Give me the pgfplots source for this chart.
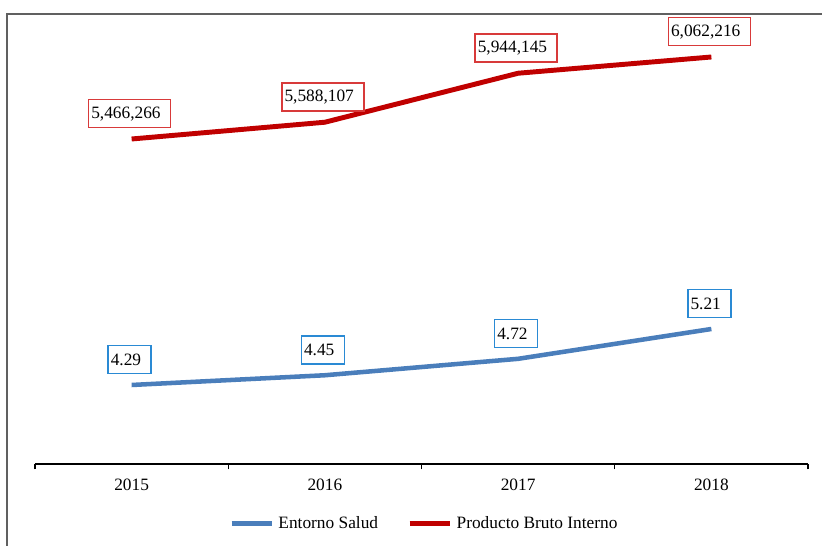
\documentclass[border=0pt]{standalone}
\usepackage{pgfplots}
\pgfplotsset{compat=1.18}
\usepackage{pgfplotstable}
\usepackage{fontspec}
\setmainfont{Liberation Serif}

\definecolor{salud}{HTML}{4A7EBB}
\definecolor{saludbox}{HTML}{2A8AD4}
\definecolor{pbi}{HTML}{C00000}
\definecolor{pbibox}{HTML}{D83A3A}
\definecolor{frame}{HTML}{606060}

% year index, value, label
\pgfplotstableread{
x y lab
0 4.29 4.29
1 4.45 4.45
2 4.72 4.72
3 5.21 5.21
}\salud
\pgfplotstableread{
x y lab
0 5466266 5,466,266
1 5588107 5,588,107
2 5944145 5,944,145
3 6062216 6,062,216
}\pbi

\newcommand\fs{\fontsize{13}{15}\selectfont}

\pgfplotsset{
  base/.style={
    scale only axis, width=579.75pt, height=337.5pt,
    at={(26.25pt,61.5pt)}, anchor=south west,
    xmin=-0.5, xmax=3.5, clip=false,
    axis y line=none,
    /pgf/number format/assume math mode=true,
    tick label style={font=\fs},
  },
  lbl/.style={
    nodes near coords={\pgfplotspointmeta\hspace*{5.5pt}},
    point meta=explicit symbolic,
    every node near coord/.append style={
      anchor=center, yshift=19pt, xshift=-1.5pt, fill=white, text=black,
      line width=1pt, inner xsep=2pt, inner ysep=0pt,
      minimum height=21pt, font=\fs},
  },
}

\begin{document}
\begin{tikzpicture}
\useasboundingbox (0,0) rectangle (616.5pt,409.5pt);
\draw[frame, line width=1.5pt] (5.25pt,-2pt) -- (5.25pt,399pt) -- (620pt,399pt);

\begin{axis}[base,
    ymin=2.992, ymax=10.385,
    axis x line=bottom, axis line style={-, black, line width=0.9pt},
    xtick={0,1,2,3}, xticklabels={2015,2016,2017,2018},
    major tick length=0pt,
    minor xtick={-0.5,0.5,1.5,2.5,3.5},
    minor tick length=4pt, tick align=outside,
    minor tick style={black, line width=0.9pt},
    xticklabel style={yshift=-8pt},
    legend style={at={(axis description cs:0.505,0)}, anchor=center, yshift=-44.5pt,
      draw=none, fill=none, legend columns=2,
      font=\fs, nodes={inner xsep=3pt},
      /tikz/every even column/.append style={column sep=19pt}},
    legend image code/.code={\draw[#1, line width=3.4pt] (0pt,0pt) -- (30.5pt,0pt);},
  ]
  \addplot[salud, line width=3.4pt, lbl,
    every node near coord/.append style={draw=saludbox}]
    table[x=x, y=y, meta=lab] {\salud};
  \addlegendentry{Entorno Salud}
  \addlegendimage{pbi}
  \addlegendentry{Producto Bruto Interno}
\end{axis}

\begin{axis}[base,
    ymin=3104263, ymax=6374728,
    axis x line=none,
  ]
  \addplot[pbi, line width=3.7pt, lbl,
    every node near coord/.append style={draw=pbibox}]
    table[x=x, y=y, meta=lab] {\pbi};
\end{axis}
\end{tikzpicture}
\end{document}
